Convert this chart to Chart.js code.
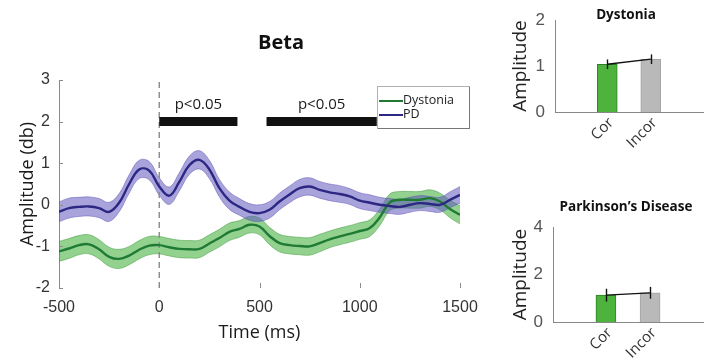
<!DOCTYPE html>
<html><head><meta charset="utf-8">
<script src="https://cdn.jsdelivr.net/npm/chart.js@4"></script>
<style>
html,body{margin:0;padding:0;background:#fff;width:712px;height:358px;overflow:hidden;position:relative}
canvas{position:absolute}
</style></head><body>
<canvas id="main" width="480" height="358" style="left:0;top:0"></canvas>
<canvas id="dys" width="212" height="150" style="left:500px;top:0"></canvas>
<canvas id="pd" width="212" height="178" style="left:500px;top:180px"></canvas>
<script>
// ---------- data ----------
const timeMs = [-500,-450,-400,-350,-300,-250,-200,-150,-100,-50,0,50,100,150,200,250,300,350,400,450,500,550,600,650,700,750,800,850,900,950,1000,1050,1100,1150,1200,1250,1300,1350,1400,1450,1500];
const pdMean = [-0.17,-0.08,-0.05,-0.04,-0.08,-0.17,0.05,0.5,0.85,0.82,0.44,0.22,0.55,0.95,1.08,0.85,0.4,0.1,-0.05,-0.17,-0.2,-0.12,0.08,0.25,0.4,0.44,0.36,0.3,0.26,0.2,0.1,0.05,0.0,-0.03,-0.05,0.0,0.04,0.02,0.0,0.12,0.24];
const pdSem = [0.24,0.24,0.23,0.23,0.23,0.23,0.22,0.22,0.22,0.22,0.21,0.21,0.22,0.22,0.22,0.22,0.21,0.21,0.2,0.2,0.2,0.2,0.2,0.2,0.21,0.21,0.2,0.2,0.2,0.19,0.19,0.19,0.18,0.18,0.18,0.18,0.18,0.18,0.18,0.19,0.2];
const dysMean = [-1.12,-1.05,-0.97,-0.95,-1.07,-1.25,-1.3,-1.22,-1.08,-0.98,-0.97,-1.02,-1.06,-1.07,-1.06,-0.93,-0.8,-0.65,-0.58,-0.48,-0.52,-0.75,-0.92,-0.97,-0.99,-1.0,-0.92,-0.83,-0.76,-0.7,-0.63,-0.56,-0.3,0.06,0.12,0.12,0.12,0.16,0.08,-0.1,-0.24];
const dysSem = [0.24,0.24,0.23,0.23,0.23,0.23,0.23,0.22,0.22,0.22,0.21,0.21,0.21,0.21,0.21,0.21,0.21,0.21,0.2,0.2,0.2,0.21,0.21,0.21,0.21,0.21,0.21,0.2,0.2,0.2,0.2,0.2,0.2,0.2,0.2,0.2,0.2,0.2,0.2,0.21,0.22];
const xTickVals = [-500,0,500,1000,1500];
const yTickVals = [-2,-1,0,1,2,3];
const sigStart = [0,535];
const sigEnd = [390,1085];
const sigLabels = ['p<0.05','p<0.05'];
const sigLevel = 2;
const seriesNames = ['Dystonia','PD'];
const barCats = ['Cor','Incor'];
const dysBar = [1.04,1.15];
const dysBarErr = [0.105,0.105];
const pdBar = [1.13,1.23];
const pdBarErr = [0.27,0.25];

const TXT = 'Open Sans';
const NUM = 'Liberation Sans';
const GREEN = '#1f7a34', NAVY = '#2c2783';

function pts(xs, ys){ return xs.map((x,i)=>({x:x, y:ys[i]})); }
function shift(ys, es, s){ return ys.map((y,i)=>y + s*es[i]); }

// ---------- plugins ----------
const textPlugin = {
  id:'texts',
  afterDraw(chart, args, opts){
    const ctx = chart.ctx;
    (opts.items||[]).forEach(t=>{
      ctx.save();
      ctx.font = t.font; ctx.fillStyle = t.color||'#222';
      ctx.textAlign='center'; ctx.textBaseline='middle';
      ctx.fillText(t.text, t.x, t.y);
      ctx.restore();
    });
  }
};

const mainExtras = {
  id:'mainExtras',
  afterDatasetsDraw(chart){
    const ctx = chart.ctx, xs = chart.scales.x, ys = chart.scales.y;
    ctx.save();
    ctx.font = '15px "'+TXT+'"'; ctx.fillStyle='#1a1a1a';
    ctx.textAlign='center'; ctx.textBaseline='middle';
    sigLabels.forEach((s,i)=>{
      const cx = xs.getPixelForValue((sigStart[i]+sigEnd[i])/2);
      ctx.fillText(s, cx, ys.getPixelForValue(sigLevel)-17);
    });
    ctx.restore();
  },
  afterDraw(chart){
    const ctx = chart.ctx, xs = chart.scales.x, ys = chart.scales.y, a = chart.chartArea;
    ctx.save(); ctx.strokeStyle='#8a8a8a'; ctx.lineWidth=1;
    xs.ticks.forEach(t=>{ const p=Math.round(xs.getPixelForValue(t.value))+0.5; ctx.beginPath(); ctx.moveTo(p,a.bottom); ctx.lineTo(p,a.bottom-5); ctx.stroke(); });
    ys.ticks.forEach(t=>{ const p=Math.round(ys.getPixelForValue(t.value))+0.5; ctx.beginPath(); ctx.moveTo(a.left,p); ctx.lineTo(a.left+4,p); ctx.stroke(); });
    ctx.restore();
    // legend box
    const items = chart.data.datasets.filter(d=>d.inLegend);
    const bx=377, by=86, bw=92, bh=42;
    ctx.save();
    ctx.fillStyle='#fff'; ctx.fillRect(bx,by,bw,bh);
    ctx.strokeStyle='#b0b0b0'; ctx.lineWidth=1; ctx.strokeRect(bx+0.5,by+0.5,bw,bh);
    ctx.strokeStyle='#777'; ctx.beginPath(); ctx.moveTo(bx+bw+0.5,by+1); ctx.lineTo(bx+bw+0.5,by+bh+0.5); ctx.lineTo(bx+1,by+bh+0.5); ctx.stroke();
    ctx.font='12.5px "'+TXT+'"'; ctx.fillStyle='#222'; ctx.textAlign='left'; ctx.textBaseline='middle';
    items.forEach((d,i)=>{
      const y = by + 15 + i*14;
      ctx.strokeStyle=d.borderColor; ctx.lineWidth=2;
      ctx.beginPath(); ctx.moveTo(bx+2,y); ctx.lineTo(bx+26,y); ctx.stroke();
      ctx.fillText(d.label, bx+26, y-1);
    });
    ctx.restore();
  }
};

const errPlugin = {
  id:'errbars',
  afterDatasetsDraw(chart, args, opts){
    const ctx = chart.ctx, xs = chart.scales.x, ys = chart.scales.y;
    ctx.save(); ctx.strokeStyle='#111'; ctx.lineWidth=1.4;
    opts.means.forEach((m,i)=>{
      const x = Math.round(xs.getPixelForValue(i+1))+0.5;
      ctx.beginPath();
      ctx.moveTo(x, ys.getPixelForValue(m+opts.errs[i]));
      ctx.lineTo(x, ys.getPixelForValue(m-opts.errs[i]));
      ctx.stroke();
    });
    ctx.restore();
  }
};

// ---------- main chart ----------
new Chart(document.getElementById('main'), {
  type:'line',
  data:{ datasets:[
    { label:'Dys lower', data:pts(timeMs, shift(dysMean,dysSem,-1)), borderColor:'rgba(40,140,40,0.55)', borderWidth:0.8, pointRadius:0, tension:0.4, fill:false, order:20 },
    { label:'Dys upper', data:pts(timeMs, shift(dysMean,dysSem,1)), borderColor:'rgba(40,140,40,0.55)', borderWidth:0.8, pointRadius:0, tension:0.4, fill:{target:0}, backgroundColor:'rgba(59,171,51,0.55)', order:19 },
    { label:'PD lower', data:pts(timeMs, shift(pdMean,pdSem,-1)), borderColor:'rgba(90,80,180,0.6)', borderWidth:0.8, pointRadius:0, tension:0.4, fill:false, order:18 },
    { label:'PD upper', data:pts(timeMs, shift(pdMean,pdSem,1)), borderColor:'rgba(90,80,180,0.6)', borderWidth:0.8, pointRadius:0, tension:0.4, fill:{target:2}, backgroundColor:'rgba(97,88,190,0.55)', order:17 },
    { label:'zero', data:[{x:0,y:-2},{x:0,y:3}], borderColor:'#8a8a8a', borderWidth:1.4, borderDash:[6,4], pointRadius:0, order:10 },
    { label:seriesNames[0], inLegend:true, data:pts(timeMs, dysMean), borderColor:GREEN, borderWidth:2.4, pointRadius:0, tension:0.4, order:5 },
    { label:seriesNames[1], inLegend:true, data:pts(timeMs, pdMean), borderColor:NAVY, borderWidth:2.4, pointRadius:0, tension:0.4, order:4 },
    ...sigStart.map((s,i)=>({ label:'sig'+i, data:[{x:s,y:sigLevel},{x:sigEnd[i],y:sigLevel}], borderColor:'#111', borderWidth:9, borderCapStyle:'butt', pointRadius:0, order:1 }))
  ]},
  options:{
    responsive:false, animation:false, devicePixelRatio:1, events:[],
    layout:{ padding:{ left:0, right:20, top:80, bottom:0 } },
    plugins:{ legend:{display:false}, tooltip:{enabled:false},
      texts:{ items:[ {text:'Beta', x:281, y:43, font:'bold 20px "'+TXT+'"', color:'#111'} ] } },
    scales:{
      x:{ type:'linear', min:-500, max:1500,
        afterBuildTicks(s){ s.ticks = xTickVals.map(v=>({value:v})); },
        afterFit(s){ s.height = 70; s.paddingLeft = 0; s.paddingRight = 0; },
        grid:{display:false, drawTicks:false}, border:{display:false},
        ticks:{ font:{family:NUM, size:16}, color:'#333', padding:10, maxRotation:0, callback:(v)=>String(v) },
        title:{ display:true, text:'Time (ms)', font:{family:TXT, size:18}, color:'#1a1a1a', padding:{top:0,bottom:14} } },
      y:{ min:-2, max:3,
        afterBuildTicks(s){ s.ticks = yTickVals.map(v=>({value:v})); },
        afterFit(s){ s.width = 59; },
        grid:{display:false, drawTicks:false}, border:{display:true, color:'#8a8a8a', width:1},
        ticks:{ font:{family:NUM, size:16}, color:'#333', padding:9, callback:(v)=>String(v) },
        title:{ display:true, text:'Amplitude (db)', font:{family:TXT, size:18}, color:'#1a1a1a', padding:{top:17,bottom:0} } }
    }
  },
  plugins:[mainExtras, textPlugin]
});

// ---------- bar charts ----------
function barChart(id, title, titleY, means, errs, yMax, yStep, padTop, xH, yW){
  return new Chart(document.getElementById(id), {
    type:'bar',
    data:{ datasets:[
      { type:'bar', data:barCats.map((c,i)=>({x:i+1, y:means[i]})), backgroundColor:['#4db33d','#b9b9b9'], borderColor:['#2f7f27','#a4a4a4'], borderWidth:1, barThickness:20, order:2 },
      { type:'line', data:barCats.map((c,i)=>({x:i+1, y:means[i]})), borderColor:'#111', borderWidth:1.3, pointRadius:0, order:1 }
    ]},
    options:{
      responsive:false, animation:false, devicePixelRatio:1, events:[],
      layout:{ padding:{ left:0, right:9, top:padTop, bottom:0 } },
      plugins:{ legend:{display:false}, tooltip:{enabled:false},
        errbars:{ means:means, errs:errs },
        texts:{ items:[ {text:title, x:126, y:titleY, font:'bold 13.5px "'+TXT+'"', color:'#111'} ] } },
      scales:{
        x:{ type:'linear', min:-0.2, max:3.2, offset:false,
          afterBuildTicks(s){ s.ticks = barCats.map((c,i)=>({value:i+1})); },
          afterFit(s){ s.height = xH; s.paddingLeft = 0; s.paddingRight = 0; },
          grid:{display:false, drawTicks:false}, border:{display:true, color:'#888', width:1},
          ticks:{ autoSkip:false, minRotation:45, maxRotation:45, padding:2, labelOffset:4, font:{family:TXT, size:15}, color:'#333',
            callback:(v)=>barCats[v-1] } },
        y:{ min:0, max:yMax,
          afterBuildTicks(s){ const t=[]; for(let v=0; v<=yMax; v+=yStep) t.push({value:v}); s.ticks=t; },
          afterFit(s){ s.width = yW; },
          grid:{display:false, drawTicks:false}, border:{display:true, color:'#888', width:1},
          ticks:{ font:{family:NUM, size:17}, color:'#555', padding:10 },
          title:{ display:true, text:'Amplitude', font:{family:TXT, size:19}, color:'#222', padding:{top:9,bottom:0} } }
      }
    },
    plugins:[errPlugin, textPlugin]
  });
}
barChart('dys', 'Dystonia', 15, dysBar, dysBarErr, 2, 1, 17, 38, 55);
barChart('pd', 'Parkinson\u2019s Disease', 27, pdBar, pdBarErr, 4, 2, 47, 36, 53);
</script>
</body></html>
